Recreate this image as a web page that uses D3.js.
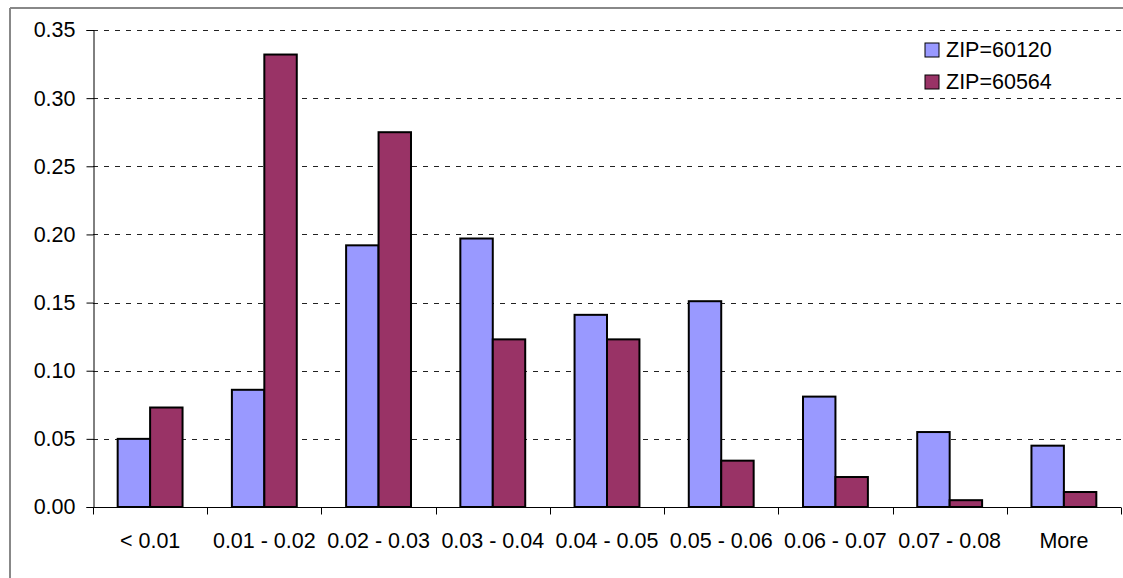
<!DOCTYPE html>
<html>
<head>
<meta charset="utf-8">
<script src="https://cdn.jsdelivr.net/npm/d3@7"></script>
<style>
  html, body { margin: 0; padding: 0; background: #fff; }
  svg { display: block; font-family: "Liberation Sans", Arial, sans-serif; }
</style>
</head>
<body>
<svg id="chart" width="1123" height="578"></svg>
<script>
const categories = ["< 0.01", "0.01 - 0.02", "0.02 - 0.03", "0.03 - 0.04", "0.04 - 0.05", "0.05 - 0.06", "0.06 - 0.07", "0.07 - 0.08", "More"];
const seriesNames = ["ZIP=60120", "ZIP=60564"];
const zip60120 = [0.050, 0.086, 0.192, 0.197, 0.141, 0.151, 0.081, 0.055, 0.045];
const zip60564 = [0.073, 0.332, 0.275, 0.123, 0.123, 0.034, 0.022, 0.005, 0.011];
const yTicks = [0, 0.05, 0.10, 0.15, 0.20, 0.25, 0.30, 0.35];
const colors = ["#9999FF", "#993366"];

const seriesValues = [zip60120, zip60564];
const svg = d3.select("#chart");
const W = 1123, H = 578;
const margin = { left: 93, top: 30, right: 2, bottom: 71 };
const plotRight = 1121, plotBottom = 507;

// outer frame (chart area border)
svg.append("line").attr("x1", 10).attr("x2", 10).attr("y1", 8).attr("y2", H)
  .attr("stroke", "#888").attr("stroke-width", 2);
svg.append("line").attr("x1", 10).attr("x2", W).attr("y1", 8).attr("y2", 8)
  .attr("stroke", "#888").attr("stroke-width", 2);

const x = d3.scaleBand().domain(categories).range([margin.left, plotRight]).paddingInner(0).paddingOuter(0);
const y = d3.scaleLinear().domain([0, 0.35]).range([plotBottom, margin.top]);
const xInner = d3.scaleBand().domain(seriesNames)
  .range([x.bandwidth() * 0.216, x.bandwidth() * 0.784]).padding(0);

// gridlines
svg.append("g").selectAll("line").data(yTicks.filter(d => d > 0)).join("line")
  .attr("x1", margin.left).attr("x2", plotRight)
  .attr("y1", d => Math.round(y(d)) + 0.5).attr("y2", d => Math.round(y(d)) + 0.5)
  .attr("stroke", "#222").attr("stroke-width", 1).attr("stroke-dasharray", "5,6");

// bars
const groups = svg.append("g").selectAll("g").data(categories).join("g")
  .attr("transform", d => `translate(${x(d)},0)`);
groups.selectAll("rect").data((c, i) => seriesNames.map((s, j) => ({ s, j, v: seriesValues[j][i] })))
  .join("rect")
  .attr("x", d => xInner(d.s))
  .attr("width", xInner.bandwidth())
  .attr("y", d => y(d.v))
  .attr("height", d => y(0) - y(d.v))
  .attr("fill", d => colors[d.j])
  .attr("stroke", "#000").attr("stroke-width", 2);

// y axis
const yAxis = d3.axisLeft(y).tickValues(yTicks).tickFormat(d3.format(".2f")).tickSizeOuter(0).tickSize(7).tickPadding(11);
const yg = svg.append("g").attr("transform", `translate(${margin.left + 0.5},0)`).call(yAxis);
yg.select(".domain").attr("stroke", "#000");
yg.selectAll(".tick line").attr("stroke", "#000");
yg.selectAll("text").attr("font-size", "21.5px").attr("fill", "#000")
  .attr("font-family", "'Liberation Sans', Arial, sans-serif");

// x axis
const xg = svg.append("g").attr("transform", `translate(0,${plotBottom + 0.5})`);
xg.append("line").attr("x1", margin.left).attr("x2", plotRight).attr("stroke", "#000");
const bounds = d3.range(categories.length + 1).map(i => margin.left + i * x.step());
xg.selectAll("line.tk").data(bounds).join("line").attr("class", "tk")
  .attr("x1", d => Math.round(d) + 0.5).attr("x2", d => Math.round(d) + 0.5)
  .attr("y1", 0).attr("y2", 7).attr("stroke", "#000");
xg.selectAll("text").data(categories).join("text")
  .attr("x", d => x(d) + x.bandwidth() / 2)
  .attr("y", 40)
  .attr("text-anchor", "middle")
  .attr("font-size", "21.5px").attr("fill", "#000")
  .text(d => d);

// legend
const legend = svg.append("g");
seriesNames.forEach((s, i) => {
  const ly = 43 + i * 32;
  legend.append("rect").attr("x", 925).attr("y", ly).attr("width", 14).attr("height", 14)
    .attr("fill", colors[i]).attr("stroke", "#000").attr("stroke-width", 1);
  legend.append("text").attr("x", 946).attr("y", ly + 14).attr("font-size", "21.5px")
    .attr("fill", "#000").text(s);
});
</script>
</body>
</html>
